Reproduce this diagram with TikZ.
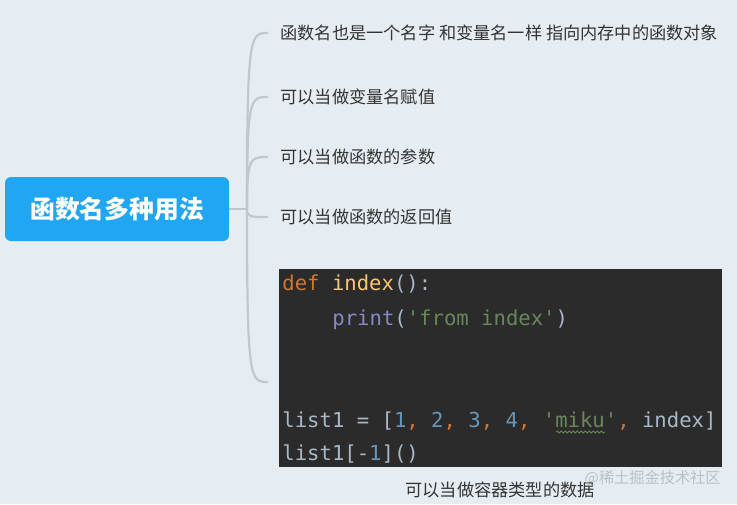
\documentclass[tikz,border=0pt]{standalone}
\usepackage{fontspec}
\setmainfont{Noto Sans CJK SC}
\setmonofont{DejaVu Sans Mono}
\usetikzlibrary{decorations.pathmorphing}
\definecolor{bgc}{HTML}{E6EDF2}
\definecolor{rootc}{HTML}{20A6F2}
\definecolor{branch}{HTML}{C2C7CB}
\definecolor{txt}{HTML}{333333}
\definecolor{wmc}{HTML}{B9C0C6}
\definecolor{codebg}{HTML}{2B2B2B}
\definecolor{cdef}{HTML}{A9B7C6}
\definecolor{kw}{HTML}{CC7832}
\definecolor{fn}{HTML}{FFC66D}
\definecolor{bi}{HTML}{8888C6}
\definecolor{st}{HTML}{6A8759}
\definecolor{nm}{HTML}{6897BB}

\begin{document}
\begin{tikzpicture}[x=0.5pt, y=-0.5pt, br/.style={draw=branch, line width=1.1pt}]
\tikzstyle{leaf}=[anchor=west, inner xsep=6pt, inner ysep=0pt, text=txt, font=\fontsize{8.6}{10}\selectfont]
\tikzstyle{cd}=[anchor=base west, inner sep=0pt, text=cdef, font=\ttfamily\fontsize{10.3}{12}\selectfont]
\path[use as bounding box, fill=bgc] (0,0) rectangle (737,504);
\node[fill=rootc, rounded corners=3pt, inner sep=0pt, minimum width=112pt, minimum height=32pt,
  text=white, font=\bfseries\fontsize{12.4}{14}\selectfont] (R) at (117,209) {函数名多种用法};
\coordinate (T) at (247,209);
\draw[br] (R.east) -- (T);
\foreach \n/\y/\t in {k1/33/函数名也是一个名字 和变量名一样 指向内存中的函数对象,
  k2/97/可以当做变量名赋值, k3/157/可以当做函数的参数, k4/217/可以当做函数的返回值}{
  \node[leaf] (\n) at (268,\y) {\t};
  \draw[br] (T) .. controls (247,\y) and (250,\y) .. (\n.west);}
% code block
\node[fill=codebg, inner sep=0pt, minimum width=221.5pt, minimum height=99pt, anchor=north west] (code) at (279,269) {};
\coordinate (k5) at (268,382);
\draw[br] (T) .. controls (247,382) and (250,382) .. (k5);
\node[cd] (l1) at (282,290) {\textcolor{kw}{def} \textcolor{fn}{index}():};
\node[cd] (l2) at (332,325) {\textcolor{bi}{print}(\textcolor{st}{'from index'})};
\node[cd] (l3) at (282,427) {list1 = [\textcolor{nm}{1}\textcolor{kw}{,} \textcolor{nm}{2}\textcolor{kw}{,} \textcolor{nm}{3}\textcolor{kw}{,} \textcolor{nm}{4}\textcolor{kw}{,} \textcolor{st}{'miku'}\textcolor{kw}{,} index]};
\node[cd] (l4) at (282,460) {list1[-\textcolor{nm}{1}]()};
\draw[st, decorate, decoration={snake, amplitude=0.5pt, segment length=2pt}] (556,432) -- (605,432);
\node[text=txt, font=\fontsize{8.6}{10}\selectfont] (cap) at (500,490) {可以当做容器类型的数据};
\node[anchor=east, inner sep=0pt, text=wmc, font=\fontsize{7.6}{9}\selectfont] (wm) at (721,478) {@稀土掘金技术社区};
\end{tikzpicture}
\end{document}
